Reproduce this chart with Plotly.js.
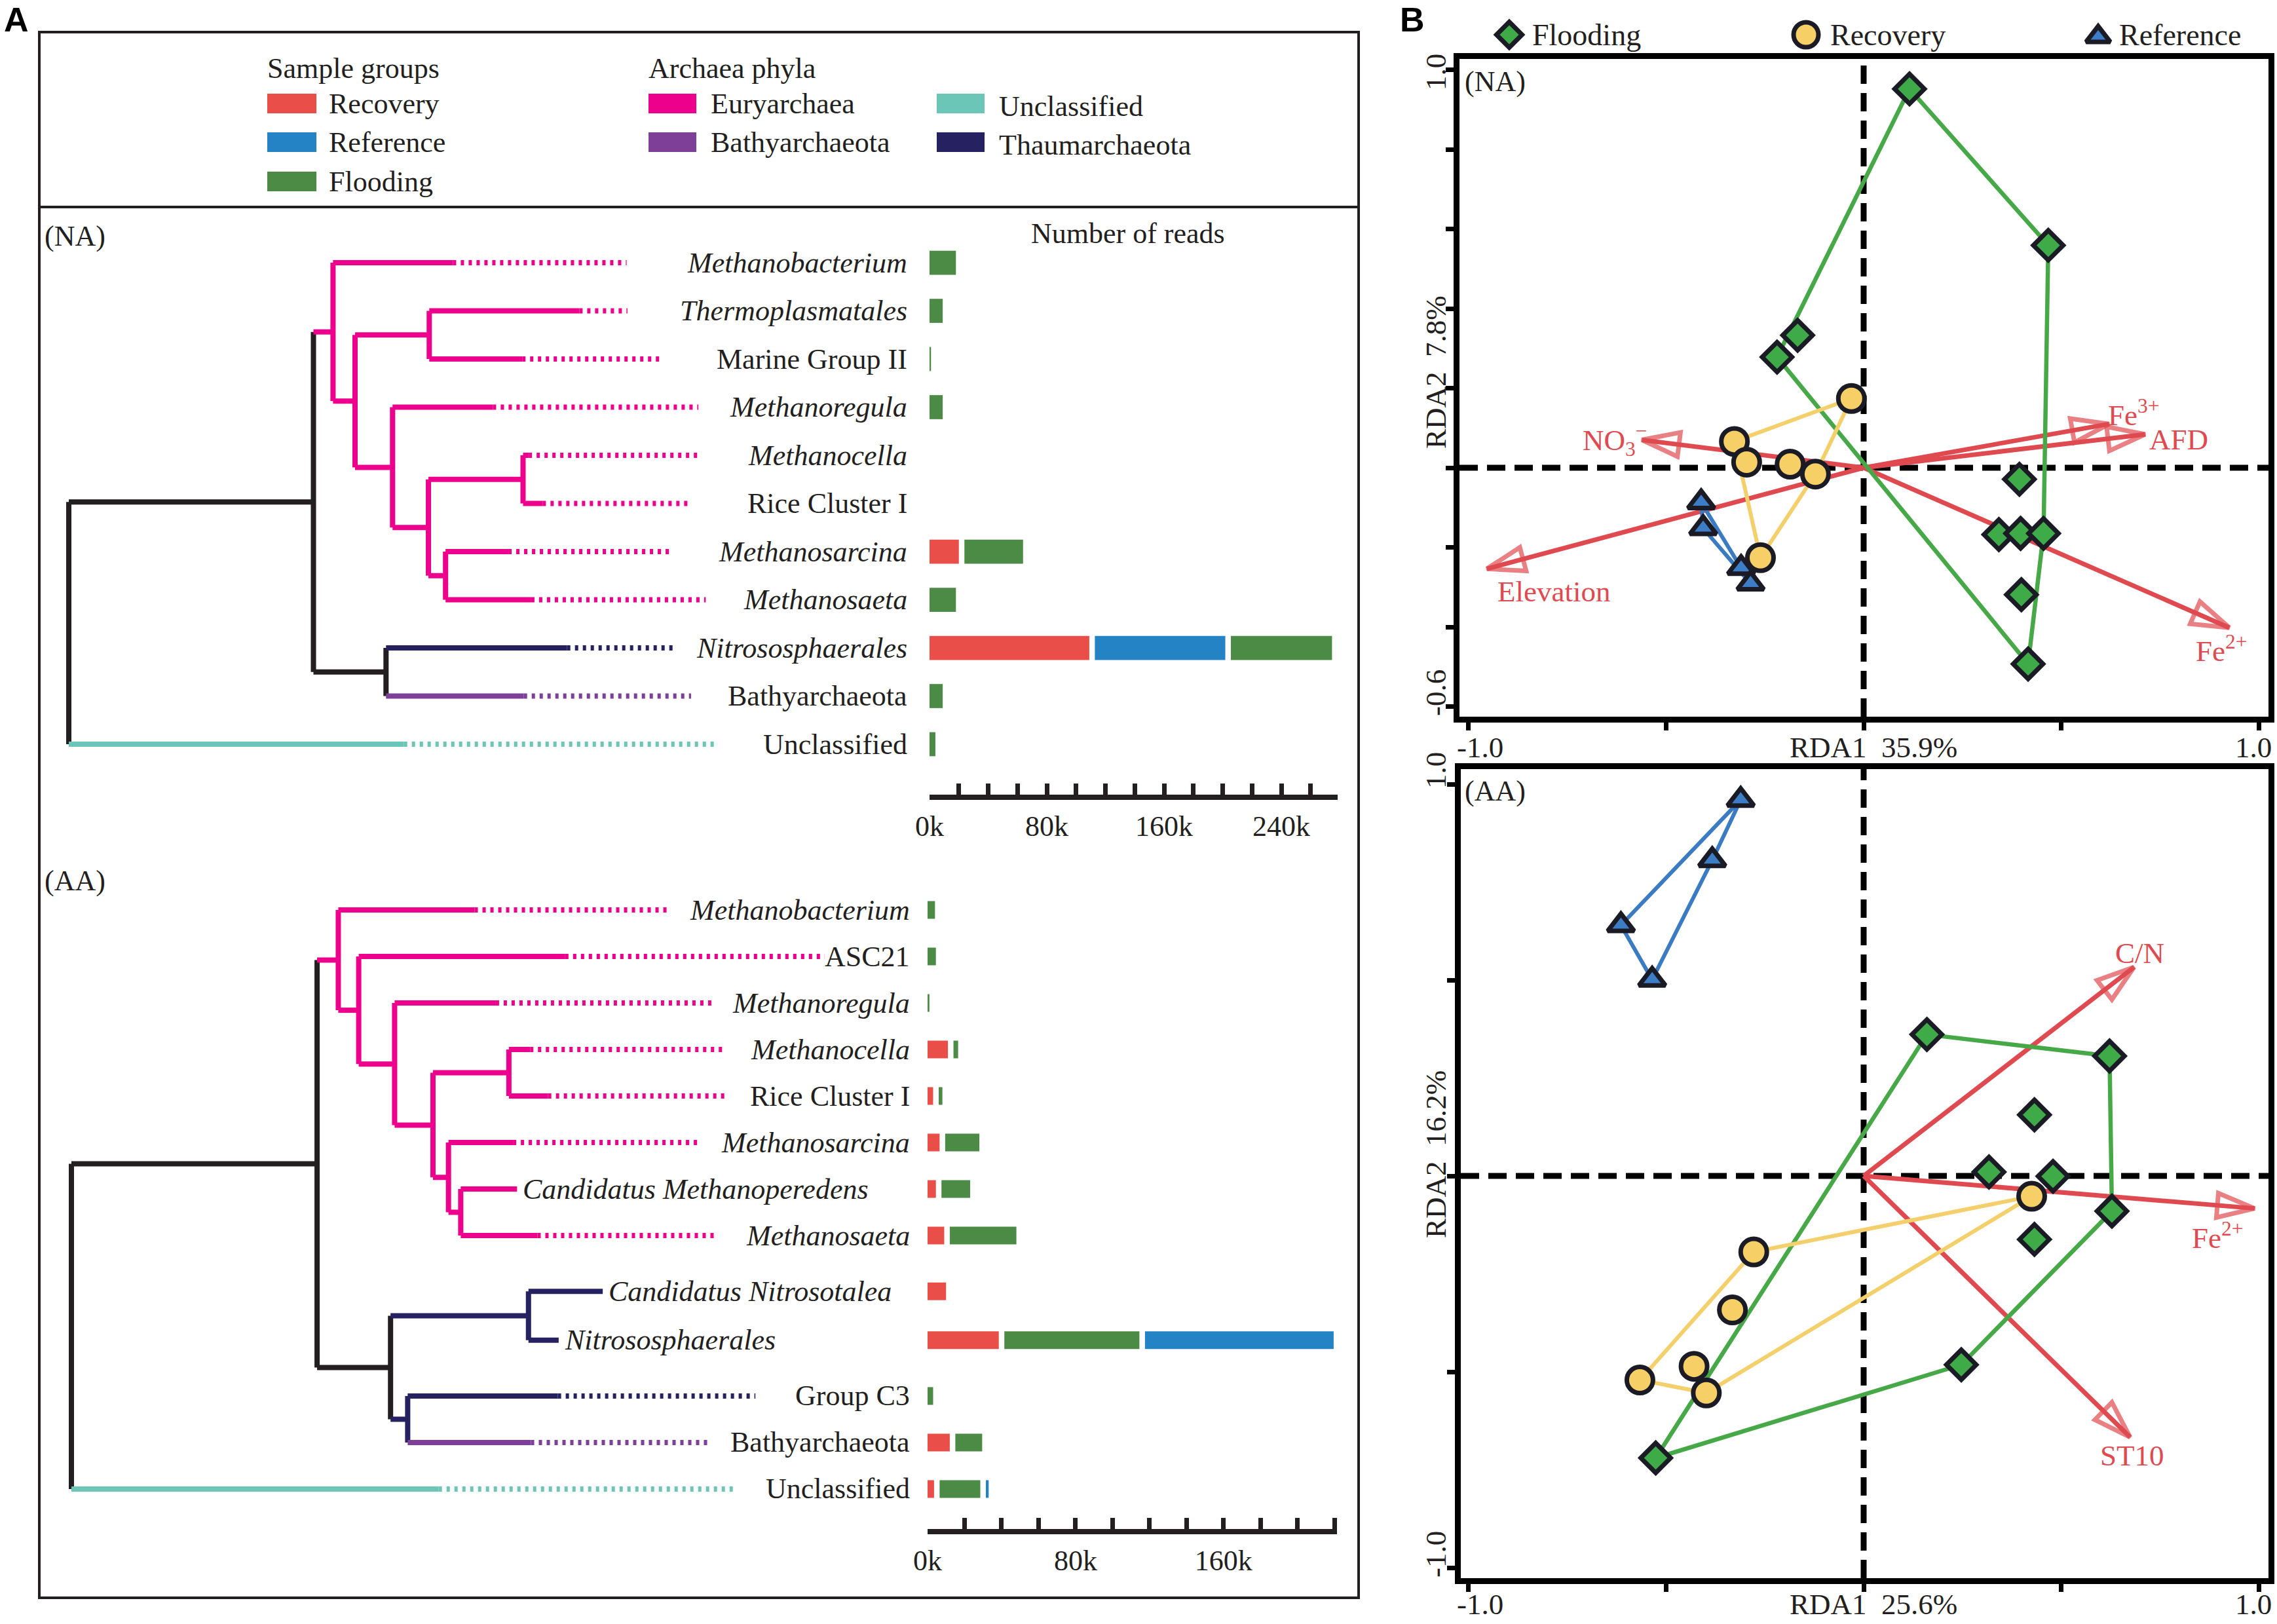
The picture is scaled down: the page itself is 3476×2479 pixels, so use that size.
<!DOCTYPE html>
<html><head><meta charset="utf-8">
<script src="https://cdn.plot.ly/plotly-3.0.1.min.js"></script>
<style>html,body{margin:0;padding:0;background:#fff}</style>
</head><body><div id="chart" style="width:3476px;height:2479px"></div>
<script>
// ================= DATA =================
const groupNames = ['Recovery','Reference','Flooding'];
const phylumNames = ['Euryarchaea','Bathyarchaeota','Unclassified','Thaumarchaeota'];

// ---- (NA) tree ----
const naLeaves = ['Methanobacterium','Thermoplasmatales','Marine Group II','Methanoregula','Methanocella','Rice Cluster I','Methanosarcina','Methanosaeta','Nitrososphaerales','Bathyarchaeota','Unclassified'];
const naLeafRow = [0,1,2,3,4,5,6,7,8,9,10];
const naLeafItalic = [1,1,0,1,1,0,1,1,1,0,0];
const naLeafPhylum = ['E','E','E','E','E','E','E','E','T','B','U'];
const naLeafParent = [2,4,4,5,7,7,8,8,9,9,0];
const naLeafSolid = [0.471,0.626,0.556,0.520,0.564,0.581,0.539,0.567,0.611,0.558,0.411];
const naLeafDotted = [0.684,0.685,0.725,0.772,0.775,0.763,0.741,0.781,0.742,0.763,0.793];
const naNodeDepth = [0,0.300,0.324,0.351,0.442,0.397,0.441,0.557,0.462,0.389];
const naNodeParent = [-1,0,1,2,3,3,5,6,6,1];
const naNodePhylum = ['K','K','E','E','E','E','E','E','E','K'];
// reads (thousands), per leaf
const naRecovery  = [0,0,0,0,0,0,20,0,109,0,0];
const naReference = [0,0,0,0,0,0,0,0,89,0,0];
const naFlooding  = [18,9,1,9,0,0,40,18,69,9,4];
const naTreeTicks = [0,0.1,0.2,0.3,0.4,0.5,0.6];
const naTreeTickText = ['0.0','0.1','0.2','0.3','0.4','0.5','0.6'];
const naReadTicks = [0,80,160,240];
const naReadTickText = ['0k','80k','160k','240k'];
const naReadMinor = [20,40,60,100,120,140,180,200,220,260];

// ---- (AA) tree ----
const aaLeaves = ['Methanobacterium','ASC21','Methanoregula','Methanocella','Rice Cluster I','Methanosarcina','Candidatus Methanoperedens','Methanosaeta','Candidatus Nitrosotalea','Nitrososphaerales','Group C3','Bathyarchaeota','Unclassified'];
const aaLeafRow = [0,1,2,3,4,5,6,7,8.2,9.25,10.45,11.45,12.45];
const aaLeafItalic = [1,0,1,1,0,1,1,1,1,1,0,0,0];
const aaLeafPhylum = ['E','E','E','E','E','E','E','E','T','T','T','B','U'];
const aaLeafParent = [2,3,4,6,6,7,8,8,10,10,11,11,0];
const aaLeafSolid = [0.494,0.605,0.520,0.562,0.584,0.541,0.546,0.571,0.651,0.597,0.596,0.563,0.450];
const aaLeafDotted = [0.734,0.923,0.788,0.800,0.802,0.768,null,0.791,null,null,0.838,0.779,0.813];
const aaNodeDepth = [0,0.301,0.327,0.352,0.396,0.443,0.536,0.462,0.477,0.391,0.560,0.412];
const aaNodeParent = [-1,0,1,2,3,4,5,5,7,1,9,9];
const aaNodePhylum = ['K','K','E','E','E','E','E','E','E','K','T','T'];
const aaRecovery  = [0,0,0,11,3,6.5,4.5,9,10,38.5,0,12,3.5];
const aaReference = [0,0,0,0,0,0,0,0,0,102,0,0,1.5];
const aaFlooding  = [4,4.5,1,2.5,2,18.5,15.5,36,0,73,3,14.5,22];
const aaTreeTicks = [0,0.1,0.2,0.3,0.4,0.5,0.6];
const aaTreeTickText = ['0.0','0.1','0.2','0.3','0.4','0.5','0.6'];
const aaReadTicks = [0,80,160];
const aaReadTickText = ['0k','80k','160k'];
const aaReadMinor = [20,40,60,100,120,140,180,200,220];

// ---- RDA (NA) ----
const naFloodX = [0.116,0.467,-0.167,-0.219,0.394,0.342,0.397,0.455,0.399,0.416];
const naFloodY = [0.952,0.559,0.333,0.278,-0.029,-0.168,-0.165,-0.165,-0.319,-0.493];
const naRecovX = [-0.031,-0.327,-0.296,-0.186,-0.122,-0.261];
const naRecovY = [0.174,0.066,0.014,0.009,-0.016,-0.226];
const naRefX = [-0.411,-0.406,-0.310,-0.286];
const naRefY = [-0.087,-0.152,-0.252,-0.291];
const naEnvNames = ['Fe<sup>3+</sup>','AFD','NO<sub>3</sub><sup>\u2212</sup>','Elevation','Fe<sup>2+</sup>'];
const naEnvX = [0.621,0.712,-0.561,-0.953,0.925];
const naEnvY = [0.110,0.084,0.070,-0.254,-0.402];
const naRDA1 = '35.9%', naRDA2 = '7.8%';

// ---- RDA (AA) ----
const aaFloodX = [0.160,0.622,0.432,0.317,0.479,0.628,0.432,0.247,-0.526];
const aaFloodY = [0.361,0.306,0.156,0.010,-0.001,-0.090,-0.162,-0.482,-0.720];
const aaRecovX = [0.425,-0.278,-0.332,-0.429,-0.566,-0.398];
const aaRecovY = [-0.052,-0.194,-0.342,-0.486,-0.521,-0.554];
const aaRefX = [-0.311,-0.383,-0.614,-0.535];
const aaRefY = [0.960,0.806,0.640,0.501];
const aaEnvNames = ['C/N','Fe<sup>2+</sup>','ST10'];
const aaEnvX = [0.684,0.989,0.674];
const aaEnvY = [0.533,-0.083,-0.667];
const aaRDA1 = '25.6%', aaRDA2 = '16.2%';

// ================= STYLE / LAYOUT =================
const W = 3476, H = 2479;
const INK = '#231f20';
const groupColor = {Recovery:'#E94E48', Reference:'#2483C4', Flooding:'#4B8B45'};
const phylumColor = {E:'#EC008C', B:'#7D3F98', U:'#6CC6B7', T:'#262262', K:'#231f20'};
const rdaColor = {flood:'#3EAA48', floodLine:'#47A847', recov:'#F6CF66', recovLine:'#F3D06B', ref:'#3D7DC6', refLine:'#3B7BC2', env:'#DE4A50', edge:'#1b1b26'};
const SERIF = '"Liberation Serif","Times New Roman",serif';

const traces = [];
const annotations = [];
const shapes = [];

function xRange(a,b,p0,s){return [(a-p0)/s,(b-p0)/s];}
function yDownRange(top,bottom,p0,s){return [(bottom-p0)/s,(top-p0)/s];}
function yUpRange(top,bottom,p0,s){return [(p0-bottom)/s,(p0-top)/s];}
function dom(a,b,isY){return isY?[1-b/H,1-a/H]:[a/W,b/W];}

function txt(x,y,text,o){
  o=o||{};
  annotations.push(Object.assign({xref:'x9',yref:'y9',x:x,y:y,text:text,showarrow:false,borderpad:0,
    xanchor:'left',yanchor:'middle',font:{family:SERIF,size:44,color:INK}},o));
}

// ---- tree drawing ----
function drawTree(T, xa, ya, labelX){
  const nN = T.nodeDepth.length;
  const memo = {};
  function kids(i){
    const c=[];
    T.leafParent.forEach((p,j)=>{ if(p===i) c.push(T.leafRow[j]); });
    T.nodeParent.forEach((p,j)=>{ if(p===i) c.push(nodeY(j)); });
    return c;
  }
  function nodeY(i){
    if(memo[i]!==undefined) return memo[i];
    const c=kids(i); const v=(Math.min(...c)+Math.max(...c))/2; memo[i]=v; return v;
  }
  const groups = {};
  function seg(key,color,dotted,x0,x1,y0,y1){
    if(!groups[key]) groups[key]={color:color,dotted:dotted,x:[],y:[]};
    groups[key].x.push(x0,x1,null); groups[key].y.push(y0,y1,null);
  }
  for(let i=0;i<nN;i++){
    const c=kids(i); const col=phylumColor[T.nodePhylum[i]];
    seg('s'+T.nodePhylum[i],col,false,T.nodeDepth[i],T.nodeDepth[i],Math.min(...c),Math.max(...c));
    if(T.nodeParent[i]>=0){
      seg('s'+T.nodePhylum[i],col,false,T.nodeDepth[T.nodeParent[i]],T.nodeDepth[i],nodeY(i),nodeY(i));
    }
  }
  T.leaves.forEach((name,j)=>{
    const ph=T.leafPhylum[j], col=phylumColor[ph], y=T.leafRow[j];
    const px=T.nodeDepth[T.leafParent[j]];
    seg('s'+ph,col,false,px,T.leafSolid[j],y,y);
    if(T.leafDotted[j]!==null) seg('d'+ph,col,true,T.leafSolid[j],T.leafDotted[j],y,y);
    const label = T.leafItalic[j] ? '<i>'+name+'</i>' : name;
    if(T.leafDotted[j]!==null){
      annotations.push({xref:xa,yref:ya,x:labelX,y:y,text:label,showarrow:false,borderpad:0,xanchor:'right',yanchor:'middle',font:{family:SERIF,size:44,color:INK}});
    } else {
      annotations.push({xref:xa,yref:ya,x:T.leafSolid[j],y:y,xshift:8,text:label,showarrow:false,borderpad:0,xanchor:'left',yanchor:'middle',font:{family:SERIF,size:44,color:INK}});
    }
  });
  Object.keys(groups).forEach(k=>{
    const g=groups[k];
    traces.push({type:'scatter',mode:'lines',x:g.x,y:g.y,xaxis:xa,yaxis:ya,hoverinfo:'skip',
      line:{color:g.color,width:8,dash:g.dotted?'5px,7px':'solid'}});
  });
}

function drawBars(order, vals, rows, gapK, width, xa, ya){
  const cum = rows.map(()=>0);
  order.forEach(g=>{
    const v = vals[g];
    traces.push({type:'bar',orientation:'h',x:v,y:rows,base:cum.slice(),width:width,xaxis:xa,yaxis:ya,
      marker:{color:groupColor[g],line:{width:0}},hoverinfo:'skip'});
    v.forEach((val,i)=>{ if(val>0) cum[i]+=val+gapK; });
  });
}

function hull(xs,ys){
  const p=xs.map((x,i)=>[x,ys[i]]).sort((a,b)=>a[0]-b[0]||a[1]-b[1]);
  const cr=(o,a,b)=>(a[0]-o[0])*(b[1]-o[1])-(a[1]-o[1])*(b[0]-o[0]);
  const lo=[],up=[];
  p.forEach(q=>{while(lo.length>=2&&cr(lo[lo.length-2],lo[lo.length-1],q)<=0)lo.pop();lo.push(q);});
  p.slice().reverse().forEach(q=>{while(up.length>=2&&cr(up[up.length-2],up[up.length-1],q)<=0)up.pop();up.push(q);});
  const h=lo.slice(0,-1).concat(up.slice(0,-1)); h.push(h[0]);
  return {x:h.map(q=>q[0]),y:h.map(q=>q[1])};
}

function drawRDA(D, xa, ya){
  shapes.push({type:'line',xref:xa,yref:ya+' domain',x0:0,x1:0,y0:0,y1:1,layer:'below',line:{color:'#000',width:9,dash:'28px,14px'}});
  shapes.push({type:'line',xref:xa+' domain',yref:ya,x0:0,x1:1,y0:0,y1:0,layer:'below',line:{color:'#000',width:9,dash:'28px,14px'}});
  D.envX.forEach((ex,i)=>{
    traces.push({type:'scatter',mode:'lines+markers',x:[0,ex],y:[0,D.envY[i]],xaxis:xa,yaxis:ya,hoverinfo:'skip',cliponaxis:false,
      line:{color:rdaColor.env,width:7},
      marker:{symbol:'arrow-open',size:[0,60],angleref:'previous',color:rdaColor.env,line:{color:rdaColor.env,width:7}}});
  });
  [[D.floodX,D.floodY,rdaColor.floodLine,6.5],[D.recovX,D.recovY,rdaColor.recovLine,6],[D.refX,D.refY,rdaColor.refLine,6]].forEach(h=>{
    const c=hull(h[0],h[1]);
    traces.push({type:'scatter',mode:'lines',x:c.x,y:c.y,xaxis:xa,yaxis:ya,hoverinfo:'skip',line:{color:h[2],width:h[3]}});
  });
  traces.push({type:'scatter',mode:'markers',x:D.refX,y:D.refY,xaxis:xa,yaxis:ya,hoverinfo:'skip',
    marker:{symbol:'triangle-up',size:35,color:rdaColor.ref,line:{color:rdaColor.edge,width:7}}});
  traces.push({type:'scatter',mode:'markers',x:D.floodX,y:D.floodY,xaxis:xa,yaxis:ya,hoverinfo:'skip',
    marker:{symbol:'diamond',size:35,color:rdaColor.flood,line:{color:rdaColor.edge,width:7}}});
  traces.push({type:'scatter',mode:'markers',x:D.recovX,y:D.recovY,xaxis:xa,yaxis:ya,hoverinfo:'skip',
    marker:{symbol:'circle',size:40,color:rdaColor.recov,line:{color:rdaColor.edge,width:7}}});
}

// ---- geometry (pixel mapping) ----
const naTreeX0=105, naTreeS=1245, naRowY0=401, naRowS=73.5;
const aaTreeX0=109, aaTreeS=1246, aaRowY0=1389, aaRowS=71;
const naBarX0=1419, naBarS=2.2375, naBarEnd=2042;
const aaBarX0=1416, aaBarS=2.824, aaBarEnd=2041;

drawTree({leaves:naLeaves,leafRow:naLeafRow,leafItalic:naLeafItalic,leafPhylum:naLeafPhylum,leafParent:naLeafParent,leafSolid:naLeafSolid,leafDotted:naLeafDotted,nodeDepth:naNodeDepth,nodeParent:naNodeParent,nodePhylum:naNodePhylum},
  'x','y',(1386-naTreeX0)/naTreeS);
drawTree({leaves:aaLeaves,leafRow:aaLeafRow,leafItalic:aaLeafItalic,leafPhylum:aaLeafPhylum,leafParent:aaLeafParent,leafSolid:aaLeafSolid,leafDotted:aaLeafDotted,nodeDepth:aaNodeDepth,nodeParent:aaNodeParent,nodePhylum:aaNodePhylum},
  'x4','y4',(1390-aaTreeX0)/aaTreeS);

drawBars(['Recovery','Reference','Flooding'],{Recovery:naRecovery,Reference:naReference,Flooding:naFlooding},naLeafRow,8.5/naBarS,0.50,'x3','y3');
drawBars(['Recovery','Flooding','Reference'],{Recovery:aaRecovery,Reference:aaReference,Flooding:aaFlooding},aaLeafRow,8.5/aaBarS,0.38,'x6','y6');

drawRDA({floodX:naFloodX,floodY:naFloodY,recovX:naRecovX,recovY:naRecovY,refX:naRefX,refY:naRefY,envX:naEnvX,envY:naEnvY},'x7','y7');
drawRDA({floodX:aaFloodX,floodY:aaFloodY,recovX:aaRecovX,recovY:aaRecovY,refX:aaRefX,refY:aaRefY,envX:aaEnvX,envY:aaEnvY},'x8','y8');

// ---- B legend markers (canvas pixel axes) ----
traces.push({type:'scatter',mode:'markers',x:[2304],y:[53],xaxis:'x9',yaxis:'y9',hoverinfo:'skip',cliponaxis:false,marker:{symbol:'diamond',size:30,color:rdaColor.flood,line:{color:rdaColor.edge,width:7}}});
traces.push({type:'scatter',mode:'markers',x:[2757],y:[53],xaxis:'x9',yaxis:'y9',hoverinfo:'skip',cliponaxis:false,marker:{symbol:'circle',size:38,color:rdaColor.recov,line:{color:rdaColor.edge,width:7}}});
traces.push({type:'scatter',mode:'markers',x:[3203],y:[56],xaxis:'x9',yaxis:'y9',hoverinfo:'skip',cliponaxis:false,marker:{symbol:'triangle-up',size:32,color:rdaColor.ref,line:{color:rdaColor.edge,width:7}}});
txt(2338,53,groupNames[2],{font:{family:SERIF,size:46,color:INK}});
txt(2793,53,groupNames[0],{font:{family:SERIF,size:46,color:INK}});
txt(3234,53,groupNames[1],{font:{family:SERIF,size:46,color:INK}});

// ---- panel letters ----
txt(25,30,'<b>A</b>',{xanchor:'center',font:{family:'"Liberation Sans",Arial,sans-serif',size:52,color:'#000'}});
txt(2156,30,'<b>B</b>',{xanchor:'center',font:{family:'"Liberation Sans",Arial,sans-serif',size:52,color:'#000'}});

// ---- panel A frame + legend ----
shapes.push({type:'rect',xref:'x9',yref:'y9',x0:60,x1:2074,y0:49,y1:2439,line:{color:INK,width:4},fillcolor:'rgba(0,0,0,0)'});
shapes.push({type:'line',xref:'x9',yref:'y9',x0:60,x1:2074,y0:316,y1:316,line:{color:INK,width:4}});
txt(407,104,'Sample groups');
txt(989,104,'Archaea phyla');
const sgY=[158,217,277];
groupNames.forEach((g,i)=>{
  shapes.push({type:'rect',xref:'x9',yref:'y9',x0:408,x1:483,y0:sgY[i]-15,y1:sgY[i]+15,line:{width:0},fillcolor:groupColor[g]});
  txt(501,sgY[i],g);
});
const phKeys=['E','B','U','T'];
const phPos=[[990,158],[990,217],[1430,158],[1430,217]];
phylumNames.forEach((p,i)=>{
  const q=phPos[i];
  shapes.push({type:'rect',xref:'x9',yref:'y9',x0:q[0],x1:q[0]+73,y0:q[1]-15,y1:q[1]+15,line:{width:0},fillcolor:phylumColor[phKeys[i]]});
  txt(q[0]+94,q[1]+(i>=2?4:0),p);
});
txt(67,360,'(NA)');
txt(67,1344,'(AA)');
txt(1722,356,'Number of reads',{xanchor:'center'});

// ---- panel B texts ----
const sp='\u00a0\u00a0';
function rdaTexts(top,yTickTopLab,yTickBotLab,yTop,yBot,yMid,xLabY,rda1,rda2,tag){
  txt(2235,top,tag);
  txt(2192,yTop,yTickTopLab,{xanchor:'center',textangle:-90,font:{family:SERIF,size:45,color:INK}});
  txt(2192,yBot,yTickBotLab,{xanchor:'center',textangle:-90,font:{family:SERIF,size:45,color:INK}});
  txt(2192,yMid,'RDA2'+sp+rda2,{xanchor:'center',textangle:-90,font:{family:SERIF,size:45,color:INK}});
  txt(2259,xLabY,'-1.0',{xanchor:'center',font:{family:SERIF,size:45,color:INK}});
  txt(2860,xLabY,'RDA1'+sp+rda1,{xanchor:'center',font:{family:SERIF,size:45,color:INK}});
  txt(3440,xLabY,'1.0',{xanchor:'center',font:{family:SERIF,size:45,color:INK}});
}
rdaTexts(124,'1.0','-0.6',110,1058,568,1141,naRDA1,naRDA2,'(NA)');
rdaTexts(1207,'1.0','-1.0',1176,2373,1762,2449,aaRDA1,aaRDA2,'(AA)');
const envFont={family:SERIF,size:45,color:rdaColor.env};
const naEnvLab=[[3217,630],[3280,671],[2415,671],[2285,903],[3351,990]];
naEnvNames.forEach((n,i)=>txt(naEnvLab[i][0],naEnvLab[i][1],n,{font:envFont}));
const aaEnvLab=[[3228,1455],[3345,1886],[3205,2222]];
aaEnvNames.forEach((n,i)=>txt(aaEnvLab[i][0],aaEnvLab[i][1],n,{font:envFont}));

// ---- axes ----
const hidden = r=>({domain:[0,1],range:r,visible:false,fixedrange:true});
const scaleAxis = (d,r,anchor,vals,text,minorVals)=>({domain:d,range:r,anchor:anchor,showline:true,linewidth:8,linecolor:INK,
  ticks:'inside',ticklen:17,tickwidth:7,tickcolor:INK,tickmode:'array',tickvals:vals,ticktext:text,
  minor:{tickmode:'array',tickvals:minorVals.concat([r[1]*0.999]),ticks:'inside',ticklen:17,tickwidth:7,tickcolor:INK,showgrid:false},
  showgrid:false,zeroline:false,tickfont:{family:SERIF,size:44,color:INK},ticklabelstandoff:2,fixedrange:true});
const rdaAxis = (d,r,anchor,vals)=>({domain:d,range:r,anchor:anchor,showline:true,mirror:true,linewidth:9,linecolor:'#000',
  ticks:'outside',ticklen:12,tickwidth:7,tickcolor:'#000',tickmode:'array',tickvals:vals,showticklabels:false,
  showgrid:false,zeroline:false,fixedrange:true});

const layout = {
  width:W,height:H,margin:{l:0,r:0,t:0,b:0,pad:0},paper_bgcolor:'#ffffff',plot_bgcolor:'rgba(0,0,0,0)',
  showlegend:false,barmode:'overlay',hovermode:false,
  font:{family:SERIF,size:44,color:INK},
  xaxis: Object.assign(hidden(xRange(0,W,naTreeX0,naTreeS)),{anchor:'y'}),
  yaxis: Object.assign(hidden(yDownRange(0,H,naRowY0,naRowS)),{anchor:'x'}),
  xaxis2: scaleAxis(dom(naTreeX0,880,false),[0,(880-naTreeX0)/naTreeS],'y2',naTreeTicks,naTreeTickText,[]),
  yaxis2: {domain:dom(1180,1213,true),range:[0,1],visible:false,anchor:'x2',fixedrange:true},
  xaxis3: scaleAxis(dom(naBarX0,naBarEnd,false),[0,(naBarEnd-naBarX0)/naBarS],'y3',naReadTicks,naReadTickText,naReadMinor),
  yaxis3: {domain:dom(360,1213,true),range:yDownRange(360,1213,naRowY0,naRowS),visible:false,anchor:'x3',fixedrange:true},
  xaxis4: Object.assign(hidden(xRange(0,W,aaTreeX0,aaTreeS)),{anchor:'y4'}),
  yaxis4: Object.assign(hidden(yDownRange(0,H,aaRowY0,aaRowS)),{anchor:'x4'}),
  xaxis5: scaleAxis(dom(aaTreeX0,961,false),[0,(961-aaTreeX0)/aaTreeS],'y5',aaTreeTicks,aaTreeTickText,[]),
  yaxis5: {domain:dom(2300,2334,true),range:[0,1],visible:false,anchor:'x5',fixedrange:true},
  xaxis6: scaleAxis(dom(aaBarX0,aaBarEnd,false),[0,(aaBarEnd-aaBarX0)/aaBarS],'y6',aaReadTicks,aaReadTickText,aaReadMinor),
  yaxis6: {domain:dom(1350,2334,true),range:yDownRange(1350,2334,aaRowY0,aaRowS),visible:false,anchor:'x6',fixedrange:true},
  xaxis7: rdaAxis(dom(2228,3463,false),xRange(2228,3463,2845,603.5),'y7',[-1,-0.5,0,0.5,1]),
  yaxis7: rdaAxis(dom(90,1094,true),yUpRange(90,1094,714,607.5),'x7',[-0.6,-0.4,-0.2,0,0.2,0.4,0.6,0.8,1.0]),
  xaxis8: rdaAxis(dom(2230,3463,false),xRange(2230,3463,2845,603.5),'y8',[-1,-0.5,0,0.5,1]),
  yaxis8: rdaAxis(dom(1174,2409,true),yUpRange(1174,2409,1795,598),'x8',[-1,-0.5,0,0.5,1]),
  xaxis9: Object.assign(hidden([0,W]),{anchor:'y9'}),
  yaxis9: Object.assign(hidden([H,0]),{anchor:'x9'}),
  annotations:annotations,
  shapes:shapes
};

Plotly.newPlot('chart',traces,layout,{staticPlot:true,displayModeBar:false});
</script>
</body></html>
